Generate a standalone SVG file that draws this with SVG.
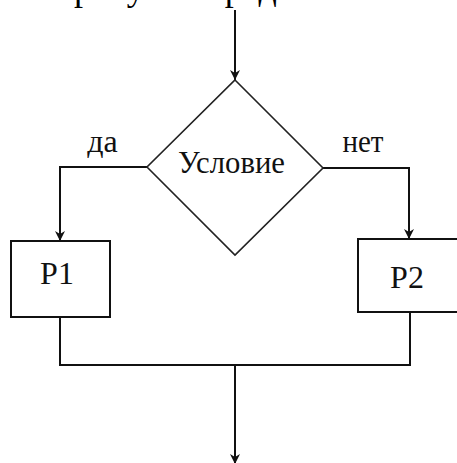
<svg xmlns="http://www.w3.org/2000/svg" width="457" height="463" viewBox="0 0 457 463">
  <style>
    .conn { fill: none; stroke: #111; stroke-width: 2; }
    .shape { fill: #fff; stroke: #111; stroke-width: 2; }
    .dia { fill: #fff; stroke: #222; stroke-width: 1.6; }
    .lbl { font-family: "Liberation Serif", "Times New Roman", serif; font-size: 32px; fill: #111; text-anchor: middle; }
    .body { font-family: "Liberation Serif", "Times New Roman", serif; font-size: 36px; fill: #000; }
  </style>
  <defs>
    <marker id="arr" viewBox="0 0 10 10" refX="10" refY="5" markerWidth="11" markerHeight="10" markerUnits="userSpaceOnUse" orient="auto">
      <path d="M0,0 L10,5 L0,10 L3,5 z" fill="#111"/>
    </marker>
  </defs>
  <rect width="457" height="463" fill="#fff"/>
  <text class="body" x="74" y="-0.5">рисунке представлена</text>

  <g id="connectors">
    <path class="conn" d="M235,10 V80" marker-end="url(#arr)"/>
    <path class="conn" d="M147,167 H60 V241" marker-end="url(#arr)"/>
    <path class="conn" d="M323,168 H409 V239" marker-end="url(#arr)"/>
    <path class="conn" d="M60,317 V365 H410 V312"/>
    <path class="conn" d="M235,365 V464" marker-end="url(#arr)"/>
  </g>

  <g id="condition">
    <polygon class="dia" points="235,80 323,168 235,255 147,167"/>
    <text class="lbl" x="231.5" y="173" textLength="107" lengthAdjust="spacingAndGlyphs">Условие</text>
  </g>
  <g id="label-yes">
    <text class="lbl" x="102.5" y="152">да</text>
  </g>
  <g id="label-no">
    <text class="lbl" x="363" y="152" textLength="41" lengthAdjust="spacingAndGlyphs">нет</text>
  </g>
  <g id="p1">
    <rect class="shape" x="11" y="241" width="99" height="76"/>
    <text class="lbl" x="57" y="284">P1</text>
  </g>
  <g id="p2">
    <rect class="shape" x="358" y="239" width="110" height="73"/>
    <text class="lbl" x="407" y="288">P2</text>
  </g>
</svg>
